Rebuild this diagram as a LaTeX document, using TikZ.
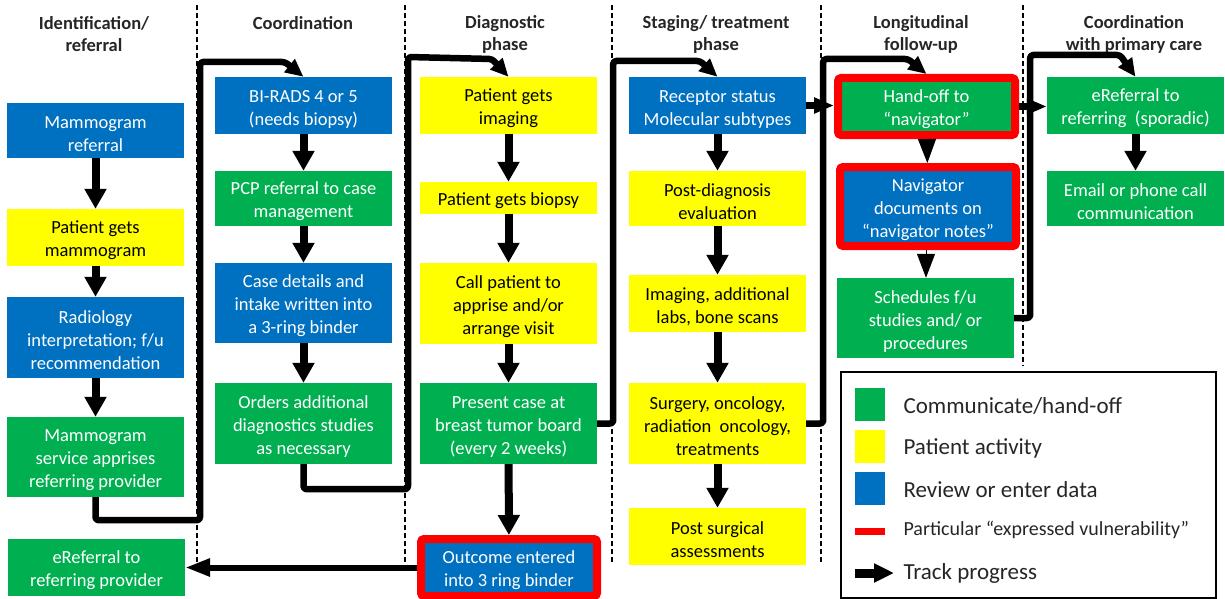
\documentclass[tikz,border=0pt]{standalone}
\usepackage{fontspec}
\setmainfont{Carlito}
\usetikzlibrary{arrows.meta}
\definecolor{cgreen}{RGB}{0,176,80}
\definecolor{cyellow}{RGB}{255,255,0}
\definecolor{cblue}{RGB}{0,112,192}
\definecolor{cred}{RGB}{255,0,0}
% fixed height for the first line of every box label
\newcommand\boxlead{\rule{0pt}{19pt}}

\begin{document}
\begin{tikzpicture}[x=1pt,y=-1pt,
  box/.style={rectangle, inner sep=0pt, align=center,
    font=\fontsize{18.5}{23}\selectfont, minimum width=177pt},
  gbox/.style={box, fill=cgreen, text=white},
  ybox/.style={box, fill=cyellow, text=black},
  bbox/.style={box, fill=cblue, text=white},
  vuln/.style={draw=cred, line width=8pt, rounded corners=3pt},
  phase/.style={font=\fontsize{18.5}{22}\selectfont\bfseries, align=center, text=black!85},
  flow/.style={line width=8pt, -{Triangle[width=21pt,length=20pt]}},
  tip/.style={line width=1pt, -{Triangle[width=18pt,length=24pt]}},
  track/.style={line width=6.5pt, rounded corners=3pt, line join=round,
    -{Triangle[width=16pt,length=18pt]}},
  lane/.style={line width=1.1pt, dash pattern=on 5pt off 3pt},
  legtext/.style={anchor=west, font=\fontsize{23}{26}\selectfont, text=black!85},
]
\useasboundingbox (0,0) rectangle (1225,599);

% lane separators
\draw[lane] (197,5) -- (197,562);
\draw[lane] (405,5) -- (405,562);
\draw[lane] (612,5) -- (612,562);
\draw[lane] (821,5) -- (821,562);
\draw[lane] (1023,5) -- (1023,366);

% phase headings
\node[phase] (h1) at (94,34) {Identification/\\referral};
\node[phase] (h2) at (303,23) {Coordination};
\node[phase] (h3) at (505,34) {Diagnostic\\phase};
\node[phase] (h4) at (716,34) {Staging/ treatment\\phase};
\node[phase] (h5) at (921,34) {Longitudinal\\follow-up};
\node[phase] (h6) at (1134,34) {Coordination\\with primary care};

% identification / referral
\node[bbox, minimum height=55pt] (mref) at (95.5,130.5) {\boxlead Mammogram\\referral};
\node[ybox, minimum height=57pt] (pmam) at (95.5,237.5) {\boxlead Patient gets\\mammogram};
\node[bbox, minimum height=81pt] (rad) at (95.5,337.5) {\boxlead Radiology\\interpretation; f/u\\recommendation};
\node[gbox, minimum height=80pt] (msvc) at (95.5,457) {\boxlead Mammogram\\service apprises\\referring provider};
\node[gbox, minimum height=57pt] (eref1) at (96.5,567.5) {\boxlead eReferral to\\referring provider};

% coordination
\node[bbox, minimum height=57pt] (birads) at (303.5,105.5) {\boxlead BI-RADS 4 or 5\\(needs biopsy)};
\node[gbox, minimum height=55pt] (pcp) at (303.5,198.5) {\boxlead PCP referral to case\\management};
\node[bbox, minimum height=80pt] (case) at (303.5,303) {\boxlead Case details and\\intake written into\\a 3-ring binder};
\node[gbox, minimum height=81pt] (orders) at (303.5,423.5) {\boxlead Orders additional\\diagnostics studies\\as necessary};

% diagnostic phase
\node[ybox, minimum height=57pt] (img) at (508.5,105.5) {\boxlead Patient gets\\imaging};
\node[ybox, minimum height=32pt] (biopsy) at (508.5,198) {\boxlead Patient gets biopsy};
\node[ybox, minimum height=81pt] (call) at (508.5,303.5) {\boxlead Call patient to\\apprise and/or\\arrange visit};
\node[gbox, minimum height=81pt] (present) at (508.5,423.5) {\boxlead Present case at\\breast tumor board\\(every 2 weeks)};
\node[bbox, vuln, minimum width=176pt, minimum height=57pt] (outcome) at (509,567.5) {\boxlead Outcome entered\\into 3 ring binder};

% staging / treatment phase
\node[bbox, minimum height=57pt] (rec) at (717.5,105.5) {\boxlead Receptor status\\Molecular subtypes};
\node[ybox, minimum height=55pt] (postdx) at (717.5,198.5) {\boxlead Post-diagnosis\\evaluation};
\node[ybox, minimum height=57pt] (labs) at (717.5,303.5) {\boxlead Imaging, additional\\labs, bone scans};
\node[ybox, minimum height=81pt] (surg) at (717.5,423.5) {\boxlead Surgery, oncology,\\radiation~ oncology,\\treatments};
\node[ybox, minimum height=57pt] (postsurg) at (717.5,536.5) {\boxlead Post surgical\\assessments};

% longitudinal follow-up
\node[gbox, vuln, minimum height=57pt] (handoff) at (926.5,106.5) {\boxlead Hand-off to\\“navigator”};
\node[bbox, vuln, minimum width=176pt, minimum height=79pt] (nav) at (928,206.5) {\boxlead Navigator\\documents on\\“navigator notes”};
\node[gbox, minimum height=80pt] (sched) at (925.5,318) {\boxlead Schedules f/u\\studies and/ or\\procedures};

% coordination with primary care
\node[gbox, minimum height=57pt] (eref2) at (1135.5,105.5) {\boxlead eReferral to\\referring~ (sporadic)};
\node[gbox, minimum height=55pt] (email) at (1135.5,198.5) {\boxlead Email or phone call\\communication};

% steps within each phase
\draw[flow] (mref) -- (pmam);
\draw[flow] (pmam) -- (rad);
\draw[flow] (rad) -- (msvc);
\draw[flow] (birads) -- (pcp);
\draw[flow] (pcp) -- (case);
\draw[flow] (case) -- (orders);
\draw[flow] (img) -- (biopsy);
\draw[flow] (biopsy) -- (call);
\draw[flow] (call) -- (present);
\draw[flow] (present) -- (outcome);
\draw[flow] (rec) -- (postdx);
\draw[flow] (postdx) -- (labs);
\draw[flow] (labs) -- (surg);
\draw[flow] (surg) -- (postsurg);
\draw[tip] (handoff) -- (nav);
\draw[tip] ([xshift=-2pt]nav.south) -- ([xshift=-2pt]nav.south |- sched.north);
\draw[flow] (eref2) -- (email);

% hand-offs between phases
\draw[track] (msvc.south) -- ++(0,23) -| (200,62) -- (285,62) -- (birads.north);
\draw[track] (orders.south) -- ++(0,25) -| (408,57) -- (492,59) -- (img.north);
\draw[track] (present.east) -- ++(16,0) |- (700,61) -- (rec.north);
\draw[track] (surg.east) -- ++(17,0) |- (908,59) -- (handoff.north);
\draw[track] (sched.east) -- ++(16,0) |- (1120,55) -- (eref2.north);
\draw[line width=7pt, -{Triangle[width=15pt,length=20pt]}] (rec.east) -- (rec.east -| handoff.west);
\draw[line width=7pt, -{Triangle[width=15pt,length=20pt]}] (handoff.east) -- (handoff.east -| eref2.west);
\draw[line width=6pt, -{Triangle[width=17pt,length=25pt]}] (outcome.west) -- (outcome.west -| eref1.east);

% legend
\node[draw, line width=1.8pt, minimum width=375pt, minimum height=226pt, anchor=north west, inner sep=0pt] (legend) at (840,371) {};
\node[fill=cgreen, minimum width=30pt, minimum height=33pt, inner sep=0pt] (lg) at (869.5,404.5) {};
\node[fill=cyellow, minimum width=30pt, minimum height=33pt, inner sep=0pt] (ly) at (869.5,446.5) {};
\node[fill=cblue, minimum width=30pt, minimum height=33pt, inner sep=0pt] (lb) at (869.5,488) {};
\node[fill=cred, minimum width=30pt, minimum height=7pt, inner sep=0pt] (lr) at (869.5,531.5) {};
\coordinate (la) at (855,573);
\coordinate (lz) at (894,573);
\draw[line width=9pt, -{Triangle[width=18pt,length=20pt]}] (la) -- (lz);
\node[legtext] (tg) at (900,406) {Communicate/hand-off};
\node[legtext] (ty) at (900,448) {Patient activity};
\node[legtext] (tb) at (900,490) {Review or enter data};
\node[legtext, font=\fontsize{20}{24}\selectfont] (tr) at (900,530) {Particular “expressed vulnerability”};
\node[legtext] (ta) at (900,573) {Track progress};
\end{tikzpicture}
\end{document}
